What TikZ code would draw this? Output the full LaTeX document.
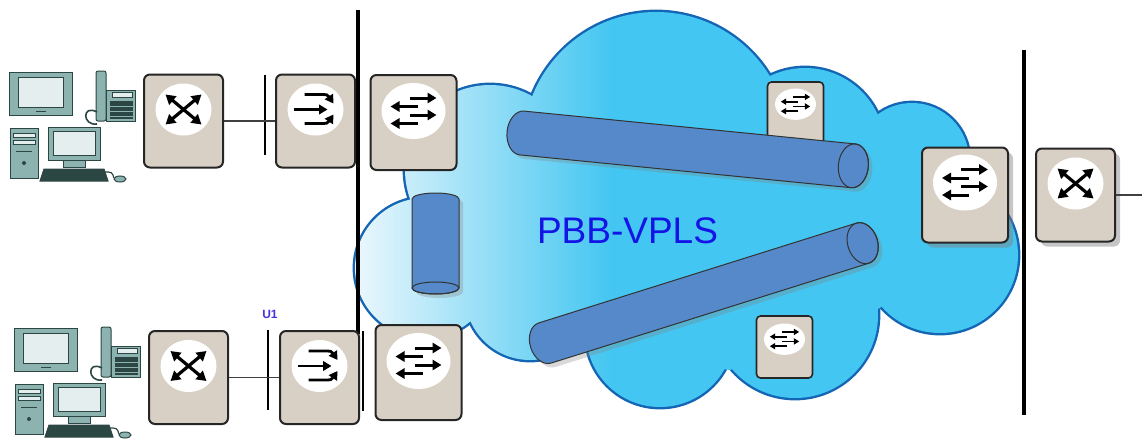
\documentclass[tikz,border=0pt]{standalone}
\usepackage{fontspec}
\setmainfont{Liberation Sans}
\usetikzlibrary{arrows.meta,positioning,calc,shadows}

\definecolor{boxtan}{HTML}{D8D0C4}
\definecolor{cloudblue}{HTML}{43C6F1}
\definecolor{cloudlight}{HTML}{EEF8FD}
\definecolor{cloudedge}{HTML}{1466B4}
\definecolor{tubeblue}{HTML}{5689CA}
\definecolor{vplsblue}{HTML}{1414E6}
\definecolor{uviolet}{HTML}{4433DD}
\definecolor{devteal}{HTML}{8CB3B0}
\definecolor{devdark}{HTML}{2C4644}
\definecolor{devscreen}{HTML}{E4EEEE}

% lobes of the core cloud and the area between them
\newcommand\cloudlobes{(425,268) circle[radius=70] (490,170) circle[radius=85]
  (656,145) circle[radius=133] (805,148) circle[radius=80] (912,160) circle[radius=57]
  (940,255) circle[radius=78] (795,315) circle[radius=83] (660,333) circle[radius=74]
  (530,295) circle[radius=65]}
\newcommand\cloudcore{(472,317) -- (410,200) -- (532,97) -- (767,75) -- (878,117)
  -- (975,200) -- (880,308) -- (730,370) -- (588,352) -- cycle}

\tikzset{
  box/.style={draw=black!85, line width=1pt, fill=boxtan, rounded corners=3pt, inner sep=0pt},
  cebox/.style={box, minimum width=39.5pt, minimum height=46.5pt},
  pebox/.style={box, minimum width=43pt, minimum height=47.5pt},
  pbox/.style={box, line width=.8pt, rounded corners=2pt, minimum width=28pt, minimum height=31pt},
  shadowed/.style={drop shadow={shadow xshift=2.5pt, shadow yshift=-2.5pt, opacity=.45}},
  tubeline/.style={draw=black!80, line width=.5pt},
  wall/.style={line width=2pt},
  fence/.style={line width=.7pt},
  link/.style={line width=.6pt, draw=black!75},
  device/.style={draw=devdark, line width=.5pt, fill=devteal},
  % length, radius, end radius
  pics/tunnel/.style n args={3}{code={
    \draw[tubeline, fill=tubeblue, drop shadow={shadow xshift=2pt, shadow yshift=-2pt, opacity=.3}]
      (0,-#2) -- (#1,-#2) arc[start angle=-90, end angle=90, x radius=#3, y radius=#2]
      -- (0,#2) arc[start angle=90, end angle=270, x radius=#3, y radius=#2] -- cycle;
    \draw[tubeline] (#1,0) ellipse[x radius=#3, y radius=#2];
  }},
  pics/crossarrows/.style={code={
    \fill[white] (0,0) ellipse[x radius=28, y radius=26];
    \draw[<->] (-18,-15) -- (18,15);
    \draw[<->] (-18,15) -- (18,-15);
  }},
  pics/mergearrows/.style={code={
    \fill[white] (0,0) ellipse[x radius=28, y radius=26];
    \draw[->] (-22,0) -- (12,0);
    \draw[->] (-11,-15) -- (3,-15) .. controls (12,-15) .. (18,-6);
    \draw[->] (-11,14) -- (3,14) .. controls (12,14) .. (18,5);
  }},
  pics/bidir/.style={code={
    \fill[white] (0,0) ellipse[x radius=32, y radius=28];
    \foreach \y in {-13,4} \draw[->] (-4,\y) -- (23,\y);
    \foreach \y in {-4.5,12.5} \draw[->] (4,\y) -- (-23,\y);
  }},
  pics/workplace/.style={code={
    % television
    \draw[device] (9,72) rectangle (72,115);
    \draw[device, fill=devscreen] (18,77) rectangle (63,107);
    \draw[devdark] (36,111) -- (46,111);
    % telephone
    \draw[device, rounded corners=1pt] (96,71) rectangle (106,121);
    \draw[device] (106,90) rectangle (135,121);
    \draw[device, fill=devscreen] (112,92) rectangle (132,97);
    \fill[devdark] (110,101) rectangle (133,119);
    \foreach \y in {106,111,116} \draw[devteal, line width=.4pt] (110,\y) -- (133,\y);
    \draw[devdark, line width=.8pt] (97,112) .. controls (82,104) and (82,126) .. (97,124);
    % computer
    \draw[device] (10,128) rectangle (38,178);
    \draw[devdark, fill=devscreen] (13,133) rectangle (35,137);
    \draw[devdark, fill=devscreen] (13,140) rectangle (35,144);
    \draw[devdark] (16,151) -- (32,151);
    \fill[devdark] (24,163) circle[radius=2];
    \draw[device] (48,127) rectangle (100,160);
    \draw[device, fill=devscreen] (53,131) rectangle (95,155);
    \draw[device] (63,160) rectangle (85,167);
    \draw[device, fill=devdark] (44,169) -- (104,169) -- (108,181) -- (40,181) -- cycle;
    \draw[devdark, line width=.6pt] (104,172) .. controls (112,172) .. (114,178);
    \draw[device] (120,179) ellipse[x radius=6, y radius=3];
  }},
}

\begin{document}
\begin{tikzpicture}[x=0.5pt, y=-0.5pt, >={Triangle[length=0pt 3, width=0pt 3.4]}]
\useasboundingbox (0,0) rectangle (1142,439);

% core cloud
\draw[cloudedge, line width=2.4pt] \cloudlobes;
\begin{scope}
  \clip \cloudlobes \cloudcore;
  \shade[left color=cloudlight, right color=cloudblue] (350,0) rectangle (612,439);
  \fill[cloudblue] (611,0) rectangle (1040,439);
\end{scope}

\draw[wall] (357.5,10) -- (357.5,334);
\draw[wall] (1024,50) -- (1024,415);
\draw[fence] (265,75) -- (265,155);
\draw[fence] (268,330) -- (268,410);
\draw[fence] (363,331) -- (363,411);

\pic at (0,0) {workplace};
\pic at (5,256) {workplace};

\node[cebox] (ceA) at (183.5,121) {};
\node[cebox, right=25.5pt of ceA] (uA) {};
\node[pebox] (peA) at (413.5,122.5) {};
\node[cebox] (ceB) at (188.5,377.5) {};
\node[cebox, right=25pt of ceB] (uB) {};
\node[pebox] (peB) at (418.5,372.5) {};
\node[pebox, shadowed] (peC) at (965,195) {};
\node[cebox, shadowed, right=13pt of peC] (ceC) {};
\node[pbox] (pA) at (795.5,113) {};
\node[pbox] (pB) at (784.5,347) {};

\pic[line width=1.6pt] at ([yshift=-18pt]ceA.north) {crossarrows};
\pic[line width=1.6pt] at ([yshift=-18pt]ceB.north) {crossarrows};
\pic[line width=1.6pt] at ([yshift=-18pt]ceC.north) {crossarrows};
\pic[line width=1.4pt] at ([yshift=-18pt]uA.north) {mergearrows};
\pic[line width=1.4pt] at ([yshift=-18pt]uB.north) {mergearrows};
\pic[line width=1.5pt] at ([yshift=-18.5pt]peA.north) {bidir};
\pic[line width=1.5pt] at ([yshift=-18.5pt]peB.north) {bidir};
\pic[line width=1.5pt] at ([yshift=-18pt]peC.north) {bidir};
\pic[xscale=.64, yscale=.56, line width=.9pt] at ([yshift=-11.5pt]pA.north) {bidir};
\pic[xscale=.64, yscale=.56, line width=.9pt] at ([yshift=-12pt]pB.north) {bidir};

\draw[link] (ceA.east) -- (ceA.east -| uA.west);
\draw[link] (ceB.east) -- (ceB.east -| uB.west);
\coordinate (edgeC) at (1142,195);
\draw[link] (ceC.east) -- (edgeC);

% tunnels
\pic[rotate=-5.66] (tunA) at (522,133) {tunnel={333}{22}{15}};
\pic[rotate=17.45] (tunB) at (545,343) {tunnel={333}{21}{15}};
\pic[rotate=-90] (tunC) at (435.5,199) {tunnel={89}{23.5}{6}};

\node[font=\fontsize{18.5}{20}\selectfont, text=vplsblue] (vpls) at (627.5,230.5) {PBB-VPLS};
\node[font=\bfseries\fontsize{6}{7}\selectfont, text=uviolet] (ulabel) at (270,314) {U1};
\end{tikzpicture}
\end{document}
